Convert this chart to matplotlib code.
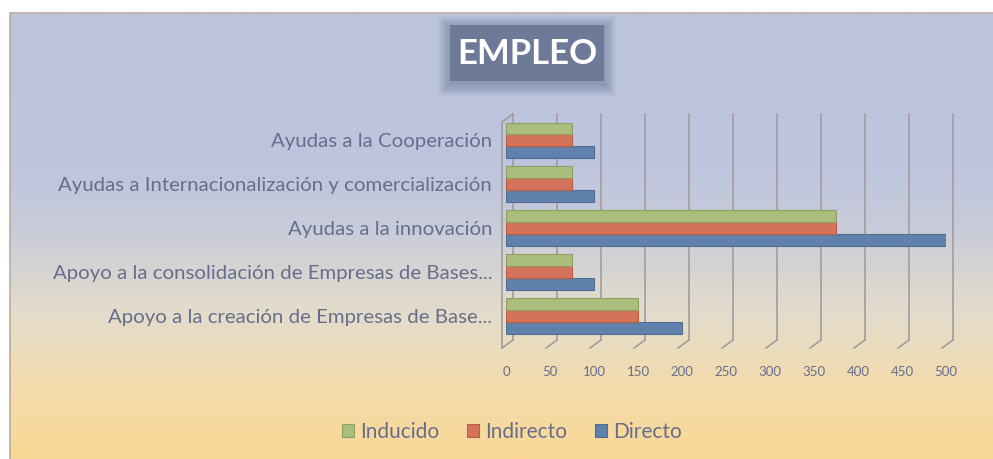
import numpy as np
import matplotlib.pyplot as plt
import matplotlib.transforms as mtransforms
from matplotlib.patches import Rectangle

plt.rcParams['font.family'] = ['Lato', 'DejaVu Sans']

# datos
categorias = ["Apoyo a la creación de Empresas de Base...",
              "Apoyo a la consolidación de Empresas de Bases...",
              "Ayudas a la innovación",
              "Ayudas a Internacionalización y comercialización",
              "Ayudas a la Cooperación"]
directo = [200, 100, 500, 100, 100]
indirecto = [150, 75, 375, 75, 75]
inducido = [150, 75, 375, 75, 75]
ticks_x = [0, 50, 100, 150, 200, 250, 300, 350, 400, 450, 500]

W, H = 993, 459
fig = plt.figure(figsize=(W / 100, H / 100), dpi=100)
fig.patch.set_facecolor("white")

def fx(px):
    return px / W

def fy(py):
    return 1 - py / H

# fondo degradado
bg = fig.add_axes([fx(10), 0, fx(W - 10), fy(13)])
colores = np.array([[188, 196, 222], [190, 197, 221], [200, 203, 218],
                    [228, 221, 203], [244, 219, 170], [250, 216, 150]]) / 255
pos = np.array([0, 0.35, 0.48, 0.68, 0.85, 1.0])
t = np.linspace(0, 1, 300)
grad = np.stack([np.interp(t, pos, colores[:, i]) for i in range(3)], axis=1)
bg.imshow(grad[:, None, :], aspect="auto", extent=[0, 1, 0, 1])
bg.set_xlim(0, 1)
bg.set_ylim(0, 1)
bg.axis("off")
fig.patches.append(Rectangle((fx(10), -0.05), fx(W - 10) + 0.01, fy(13) + 0.05, transform=fig.transFigure,
                             fill=False, ec="#b8aca0", lw=1.2, zorder=1))

# titulo con sombra suave
bx0, bx1, by0, by1 = 450, 604, 25, 81
for k in range(12, 0, -1):
    fig.patches.append(Rectangle((fx(bx0 - k), fy(by1 + k + 3)), fx(bx1 - bx0 + 2 * k), (by1 - by0 + 2 * k) / H,
                                 transform=fig.transFigure, fc="#4a5575", ec="none", alpha=0.035, zorder=2))
fig.patches.append(Rectangle((fx(bx0), fy(by1)), fx(bx1 - bx0), (by1 - by0) / H,
                             transform=fig.transFigure, fc="#6d7a97", ec="none", zorder=3))
fig.text(fx((bx0 + bx1) / 2), fy((by0 + by1) / 2 + 1), "EMPLEO", color="white", fontsize=25,
         fontweight="bold", ha="center", va="center", zorder=4)

# ejes principales
ax = fig.add_axes([fx(506), fy(340), fx(946 - 506), (340 - 114) / H])
ax.patch.set_alpha(0)
for s in ax.spines.values():
    s.set_visible(False)

y = np.arange(len(categorias))
h = 0.27
c_dir, c_ind, c_indu = "#6181ad", "#d4735a", "#abbd7c"
ax.barh(y - h, directo, height=h, color=c_dir, edgecolor="#4f6c94", lw=0.8, label="Directo", zorder=3)
ax.barh(y, indirecto, height=h, color=c_ind, edgecolor="#b85e47", lw=0.8, label="Indirecto", zorder=3)
ax.barh(y + h, inducido, height=h, color=c_indu, edgecolor="#8f9f62", lw=0.8, label="Inducido", zorder=3)

ax.set_xlim(0, 500)
ax.set_ylim(-0.55, 4.6)
ax.set_yticks(y)
ax.set_yticklabels(categorias, fontsize=14.7, color="#676e8c")
ax.set_xticks(ticks_x)
ax.set_xticklabels([str(v) for v in ticks_x], fontsize=9.5, color="#676e8c")
ax.tick_params(axis="both", length=0)
ax.tick_params(axis="x", pad=19)
ax.tick_params(axis="y", pad=10)

# rejilla con efecto 3D
back = ax.transData + mtransforms.ScaledTranslation(7 / 100, 0, fig.dpi_scale_trans)
gcol = "#a39c9a"
for v in ticks_x:
    ax.plot([v, v], [-0.55, 4.6], color=gcol, lw=1.2, transform=back, zorder=1, clip_on=False)
    p0 = back.transform((v, -0.55))
    p1 = p0 + np.array([-11, -8])
    ax.plot([p0[0], p1[0]], [p0[1], p1[1]], color=gcol, lw=1.2, transform=None, zorder=1, clip_on=False)
# pared lateral
pt = back.transform((0, 4.6))
pb = back.transform((0, -0.55))
ax.plot([pt[0], pt[0] - 11, pb[0] - 11], [pt[1], pt[1] - 8, pb[1] - 8], color=gcol, lw=1.2,
        transform=None, zorder=1, clip_on=False)

# leyenda
hnd, lab = ax.get_legend_handles_labels()
leg = fig.legend(hnd[::-1], lab[::-1], loc="center", bbox_to_anchor=(fx(512), fy(432)), ncol=3,
                 frameon=False, fontsize=15, handlelength=0.6, handleheight=0.6, handletextpad=0.3,
                 columnspacing=1.3)
for txt in leg.get_texts():
    txt.set_color("#676e8c")

fig.savefig("out.png", dpi=100)
